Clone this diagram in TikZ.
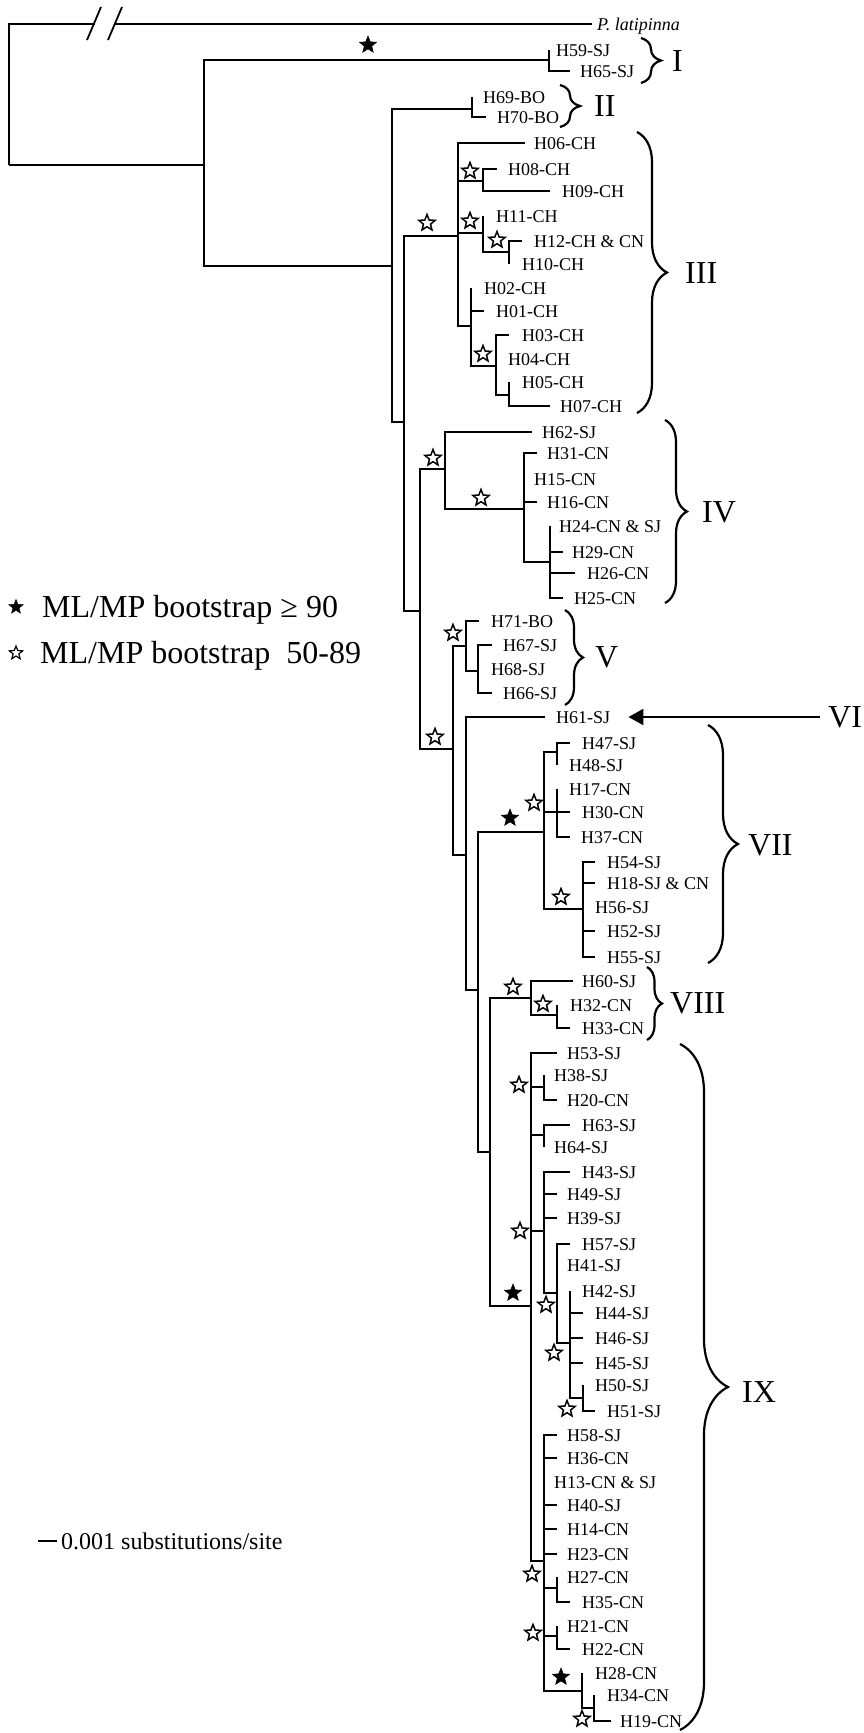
\documentclass[tikz,border=0pt]{standalone}
\usepackage{fontspec}
\setmainfont{Liberation Serif}
\usetikzlibrary{shapes.geometric,decorations.pathreplacing,arrows.meta}
\tikzset{
  brl/.style={line width=2.2pt},
  lab/.style={anchor=west,inner sep=0pt,font=\fontsize{18}{20}\selectfont,text height=12pt,text depth=0pt},
  rom/.style={anchor=west,inner sep=0pt,font=\fontsize{32}{36}\selectfont,text height=21pt,text depth=0pt},
  leg/.style={anchor=west,inner sep=0pt,font=\fontsize{32}{36}\selectfont,text height=21pt,text depth=0pt},
  ostar/.style={star,star points=5,star point ratio=2.3,draw,fill=white,line width=1.5pt,minimum size=17pt,inner sep=0pt},
  fstar/.style={star,star points=5,star point ratio=2.3,draw,fill=black,line width=0.5pt,minimum size=18pt,inner sep=0pt},
  brc/.style={decorate,decoration={brace,amplitude=#1},line width=2.2pt},
}
\newcommand{\mytip}[5]{\coordinate (#1) at (#2,#3); \node[lab] (#1L) at (#4,#3) {#5};}
\begin{document}
\begin{tikzpicture}[x=1pt,y=-1pt]
\useasboundingbox (0,0) rectangle (864,1733);

% ---------- internal nodes ----------
\coordinate (r0) at (9,165);
\coordinate (A) at (204,165);
\coordinate (cI) at (549,60);
\coordinate (B) at (392,266);
\coordinate (cII) at (472,109);
\coordinate (C) at (404,422);
\coordinate (cIII) at (458,236);
\coordinate (D1) at (483,181);
\coordinate (D2) at (483,233);
\coordinate (D3) at (509,252);
\coordinate (D4) at (471,326);
\coordinate (D5) at (496,366);
\coordinate (D6) at (509,395);
\coordinate (E) at (420,611);
\coordinate (cIV) at (445,469);
\coordinate (F) at (524,509);
\coordinate (G) at (550,562);
\coordinate (Hn) at (453,749);
\coordinate (cV) at (466,646);
\coordinate (Vb) at (478,671);
\coordinate (J) at (466,855);
\coordinate (K) at (478,990);
\coordinate (cVII) at (544,832);
\coordinate (VIIa) at (557,752);
\coordinate (VIIb) at (557,812);
\coordinate (VIIc) at (583,909);
\coordinate (L) at (490,1152);
\coordinate (cVIII) at (531,998);
\coordinate (VIIIb) at (557,1015);
\coordinate (cIX) at (531,1306);
\coordinate (IXa) at (544,1087);
\coordinate (IXb) at (544,1135);
\coordinate (IXc) at (544,1231);
\coordinate (IXd) at (557,1293);
\coordinate (IXe) at (570,1343);
\coordinate (IXf) at (583,1398);
\coordinate (IXg) at (544,1561);
\coordinate (IXh) at (557,1588);
\coordinate (IXi) at (557,1636);
\coordinate (IXj) at (582,1691);
\coordinate (IXk) at (594,1708);

% ---------- tips ----------
\coordinate (pl) at (592,24);
\node[lab,font=\fontsize{18}{20}\selectfont\itshape] (plL) at (597,24) {P. latipinna};
\mytip{t59}{549}{50}{556}{H59-SJ}
\mytip{t65}{570}{71}{580}{H65-SJ}
\mytip{t69}{472}{97}{483}{H69-BO}
\mytip{t70}{486}{117}{497}{H70-BO}
\mytip{t06}{525}{143}{534}{H06-CH}
\mytip{t08}{497}{169}{508}{H08-CH}
\mytip{t09}{550}{191}{562}{H09-CH}
\mytip{t11}{483}{216}{496}{H11-CH}
\mytip{t12}{522}{241}{534}{H12-CH \& CN}
\mytip{t10}{509}{264}{522}{H10-CH}
\mytip{t02}{471}{288}{484}{H02-CH}
\mytip{t01}{484}{311}{496}{H01-CH}
\mytip{t03}{509}{335}{522}{H03-CH}
\mytip{t04}{496}{359}{508}{H04-CH}
\mytip{t05}{509}{382}{522}{H05-CH}
\mytip{t07}{550}{406}{560}{H07-CH}
\mytip{t62}{532}{432}{542}{H62-SJ}
\mytip{t31}{537}{453}{547}{H31-CN}
\mytip{t15}{524}{479}{534}{H15-CN}
\mytip{t16}{537}{502}{547}{H16-CN}
\mytip{t24}{550}{526}{559}{H24-CN \& SJ}
\mytip{t29}{563}{552}{572}{H29-CN}
\mytip{t26}{575}{573}{587}{H26-CN}
\mytip{t25}{563}{598}{574}{H25-CN}
\mytip{t71}{479}{621}{491}{H71-BO}
\mytip{t67}{492}{645}{503}{H67-SJ}
\mytip{t68}{478}{669}{491}{H68-SJ}
\mytip{t66}{492}{693}{503}{H66-SJ}
\mytip{t61}{545}{717}{556}{H61-SJ}
\mytip{t47}{570}{743}{582}{H47-SJ}
\mytip{t48}{557}{765}{569}{H48-SJ}
\mytip{t17}{557}{789}{569}{H17-CN}
\mytip{t30}{570}{812}{582}{H30-CN}
\mytip{t37}{570}{837}{581}{H37-CN}
\mytip{t54}{595}{862}{607}{H54-SJ}
\mytip{t18}{595}{883}{607}{H18-SJ \& CN}
\mytip{t56}{583}{907}{595}{H56-SJ}
\mytip{t52}{595}{931}{607}{H52-SJ}
\mytip{t55}{595}{957}{607}{H55-SJ}
\mytip{t60}{573}{981}{582}{H60-SJ}
\mytip{t32}{557}{1005}{570}{H32-CN}
\mytip{t33}{570}{1028}{582}{H33-CN}
\mytip{t53}{557}{1053}{567}{H53-SJ}
\mytip{t38}{544}{1075}{554}{H38-SJ}
\mytip{t20}{557}{1100}{567}{H20-CN}
\mytip{t63}{570}{1125}{582}{H63-SJ}
\mytip{t64}{544}{1147}{554}{H64-SJ}
\mytip{t43}{570}{1172}{582}{H43-SJ}
\mytip{t49}{557}{1194}{567}{H49-SJ}
\mytip{t39}{557}{1218}{567}{H39-SJ}
\mytip{t57}{570}{1244}{582}{H57-SJ}
\mytip{t41}{557}{1265}{567}{H41-SJ}
\mytip{t42}{570}{1291}{582}{H42-SJ}
\mytip{t44}{583}{1313}{595}{H44-SJ}
\mytip{t46}{583}{1338}{595}{H46-SJ}
\mytip{t45}{583}{1363}{595}{H45-SJ}
\mytip{t50}{583}{1385}{595}{H50-SJ}
\mytip{t51}{595}{1411}{607}{H51-SJ}
\mytip{t58}{557}{1435}{567}{H58-SJ}
\mytip{t36}{557}{1458}{567}{H36-CN}
\mytip{t13}{544}{1482}{554}{H13-CN \& SJ}
\mytip{t40}{557}{1505}{567}{H40-SJ}
\mytip{t14}{557}{1529}{567}{H14-CN}
\mytip{t23}{557}{1554}{567}{H23-CN}
\mytip{t27}{557}{1577}{567}{H27-CN}
\mytip{t35}{570}{1602}{582}{H35-CN}
\mytip{t21}{557}{1626}{567}{H21-CN}
\mytip{t22}{570}{1649}{582}{H22-CN}
\mytip{t28}{582}{1673}{595}{H28-CN}
\mytip{t34}{594}{1695}{607}{H34-CN}
\mytip{t19}{611}{1721}{620}{H19-CN}

% ---------- branches ----------
\draw[brl] (r0) |- (pl);
\draw[brl] (r0) |- (A);
\foreach \c in {cI,B} \draw[brl] (A) |- (\c);
\foreach \c in {t59,t65} \draw[brl] (cI) |- (\c);
\foreach \c in {cII,C} \draw[brl] (B) |- (\c);
\foreach \c in {t69,t70} \draw[brl] (cII) |- (\c);
\foreach \c in {cIII,E} \draw[brl] (C) |- (\c);
\foreach \c in {t06,D1,D2,D4} \draw[brl] (cIII) |- (\c);
\foreach \c in {t08,t09} \draw[brl] (D1) |- (\c);
\foreach \c in {t11,D3} \draw[brl] (D2) |- (\c);
\foreach \c in {t12,t10} \draw[brl] (D3) |- (\c);
\foreach \c in {t02,t01,D5} \draw[brl] (D4) |- (\c);
\foreach \c in {t03,t04,D6} \draw[brl] (D5) |- (\c);
\foreach \c in {t05,t07} \draw[brl] (D6) |- (\c);
\foreach \c in {cIV,Hn} \draw[brl] (E) |- (\c);
\foreach \c in {t62,F} \draw[brl] (cIV) |- (\c);
\foreach \c in {t31,t15,t16,G} \draw[brl] (F) |- (\c);
\foreach \c in {t24,t29,t26,t25} \draw[brl] (G) |- (\c);
\foreach \c in {cV,J} \draw[brl] (Hn) |- (\c);
\foreach \c in {t71,Vb} \draw[brl] (cV) |- (\c);
\foreach \c in {t67,t68,t66} \draw[brl] (Vb) |- (\c);
\foreach \c in {t61,K} \draw[brl] (J) |- (\c);
\foreach \c in {cVII,L} \draw[brl] (K) |- (\c);
\foreach \c in {VIIa,VIIb,VIIc} \draw[brl] (cVII) |- (\c);
\foreach \c in {t47,t48} \draw[brl] (VIIa) |- (\c);
\foreach \c in {t17,t30,t37} \draw[brl] (VIIb) |- (\c);
\foreach \c in {t54,t18,t56,t52,t55} \draw[brl] (VIIc) |- (\c);
\foreach \c in {cVIII,cIX} \draw[brl] (L) |- (\c);
\foreach \c in {t60,VIIIb} \draw[brl] (cVIII) |- (\c);
\foreach \c in {t32,t33} \draw[brl] (VIIIb) |- (\c);
\foreach \c in {t53,IXa,IXb,IXc,IXg} \draw[brl] (cIX) |- (\c);
\foreach \c in {t38,t20} \draw[brl] (IXa) |- (\c);
\foreach \c in {t63,t64} \draw[brl] (IXb) |- (\c);
\foreach \c in {t43,t49,t39,IXd} \draw[brl] (IXc) |- (\c);
\foreach \c in {t57,t41,IXe} \draw[brl] (IXd) |- (\c);
\foreach \c in {t42,t44,t46,t45,IXf} \draw[brl] (IXe) |- (\c);
\foreach \c in {t50,t51} \draw[brl] (IXf) |- (\c);
\foreach \c in {t58,t36,t13,t40,t14,t23,IXh,IXi,IXj} \draw[brl] (IXg) |- (\c);
\foreach \c in {t27,t35} \draw[brl] (IXh) |- (\c);
\foreach \c in {t21,t22} \draw[brl] (IXi) |- (\c);
\foreach \c in {t28,IXk} \draw[brl] (IXj) |- (\c);
\foreach \c in {t34,t19} \draw[brl] (IXk) |- (\c);

% ---------- break marks on outgroup branch ----------
\fill[white] (95,17) rectangle (114,31);
\draw[line width=1.8pt] (87,40) -- (101,7);
\draw[line width=1.8pt] (108,40) -- (122,7);

% ---------- support stars ----------
\foreach \p in {(427,223),(470,171),(470,221),(497,240),(483,354),(433,458),(481,498),(453,633),(435,737),(534,803),(561,897),(513,987),(543,1004),(519,1085),(520,1231),(546,1305),(554,1353),(567,1409),(532,1574),(533,1633),(582,1719)}
  \node[ostar] at \p {};
\foreach \p in {(368,45),(510,818),(513,1293),(561,1677)}
  \node[fstar] at \p {};

% ---------- clade braces and labels ----------
\draw[brc=20pt] (641,38) -- (641,83);
\node[rom] (lI) at (672,61) {I};
\draw[brc=20pt] (560,85) -- (560,127);
\node[rom] (lII) at (594,106) {II};
\draw[brc=30pt] (637,132) -- (637,413);
\node[rom] (lIII) at (685,273) {III};
\draw[brc=22pt] (665,420) -- (665,603);
\node[rom] (lIV) at (702,512) {IV};
\draw[brc=18pt] (565,610) -- (565,705);
\node[rom] (lV) at (595,657) {V};
\node[rom] (lVI) at (828,717) {VI};
\draw[brl,-{Triangle[length=15pt,width=16pt]},shorten <=8pt,shorten >=18pt] (lVI.west) -- (t61L.east);
\draw[brc=30pt] (708,725) -- (708,963);
\node[rom] (lVII) at (748,845) {VII};
\draw[brc=15pt] (647,967) -- (647,1040);
\node[rom] (lVIII) at (670,1003) {VIII};
\draw[brc=48pt] (680,1044) -- (680,1730);
\node[rom] (lIX) at (742,1392) {IX};

% ---------- legend ----------
\node[fstar,minimum size=15pt] (ls1) at (16,607) {};
\node[leg] (lt1) at (42,607) {ML/MP bootstrap ≥ 90};
\node[ostar,minimum size=14pt,line width=1.2pt] (ls2) at (16,653) {};
\node[leg] (lt2) at (40,653) {ML/MP bootstrap~~50-89};

% ---------- scale bar ----------
\coordinate (sb1) at (38,1541);
\coordinate (sb2) at (57,1541);
\draw[brl] (sb1) -- (sb2);
\node[anchor=west,inner sep=0pt,font=\fontsize{24}{28}\selectfont,text height=16pt,text depth=0pt] (sbL) at (61,1541) {0.001 substitutions/site};
\end{tikzpicture}
\end{document}
